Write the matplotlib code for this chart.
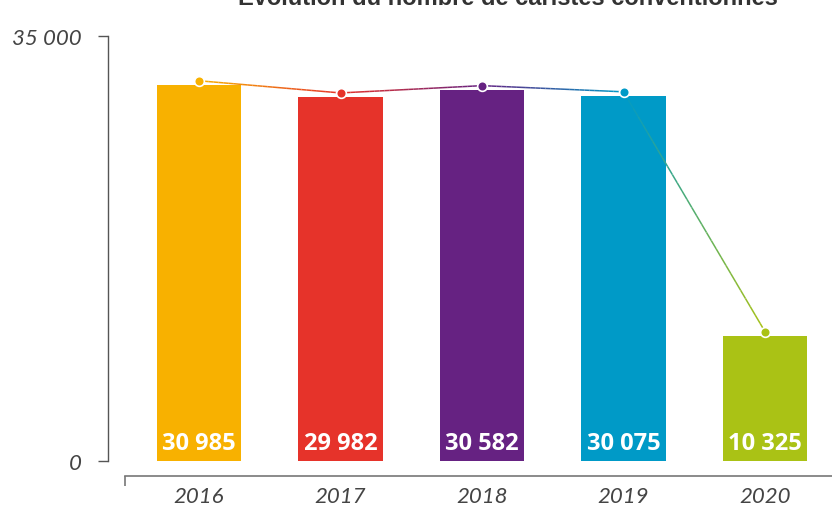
import numpy as np
import matplotlib
matplotlib.use("Agg")
import matplotlib.pyplot as plt
from matplotlib.collections import LineCollection
from matplotlib.colors import to_rgb
from matplotlib.transforms import ScaledTranslation

# data
years = ["2016", "2017", "2018", "2019", "2020"]
caristes = [30985, 29982, 30582, 30075, 10325]
labels = ["30 985", "29 982", "30 582", "30 075", "10 325"]
colors = ["#F8B100", "#E6332A", "#662282", "#009AC7", "#AAC215"]
title = "Évolution du nombre de caristes conventionnés"

W, H = 832, 506
fig = plt.figure(figsize=(W / 100, H / 100), dpi=100)

# axes in pixel terms: left spine at x=108, zero at y=462, top at y=20
x0, y0, y1 = 108, 462, 20
ax = fig.add_axes([x0 / W, 1 - y0 / H, (W - x0) / W, (y0 - y1) / H])
step = 141.5
ax.set_xlim((x0 - 199) / step, (W - 199) / step)
ax.set_ylim(0, 36400)

x = np.arange(len(years))
ax.bar(x, caristes, width=0.594, color=colors, zorder=2)

# line with a colour gradient between points, a few px above the bars
off = ScaledTranslation(0, 4 / 100, fig.dpi_scale_trans)
segs, cols = [], []
for i in range(len(x) - 1):
    c0, c1 = np.array(to_rgb(colors[i])), np.array(to_rgb(colors[i + 1]))
    t = np.linspace(0, 1, 30)
    xs = x[i] + (x[i + 1] - x[i]) * t
    ys = caristes[i] + (caristes[i + 1] - caristes[i]) * t
    for j in range(len(t) - 1):
        segs.append([(xs[j], ys[j]), (xs[j + 1], ys[j + 1])])
        cols.append(c0 + (c1 - c0) * (t[j] + t[j + 1]) / 2)
lc = LineCollection(segs, colors=cols, linewidths=1.1, zorder=3,
                    transform=ax.transData + off)
ax.add_collection(lc)
for i in x:
    ax.plot(x[i], caristes[i], "o", ms=7, mfc=colors[i], mec="white", mew=1.2,
            zorder=4, transform=ax.transData + off)

# value labels inside bars
for i in x:
    ax.annotate(labels[i], xy=(x[i], 0), xytext=(0, 13), textcoords="offset points",
                ha="center", va="center", color="white", fontsize=17,
                fontweight="bold", family="Open Sans", zorder=5)

# spines
for s in ["top", "right"]:
    ax.spines[s].set_visible(False)
ax.spines["left"].set_color("#555555")
ax.spines["left"].set_linewidth(1)
ax.spines["left"].set_bounds(0, 35000)
ax.spines["bottom"].set_color("#777777")
ax.spines["bottom"].set_linewidth(1.2)
ax.spines["bottom"].set_position(("outward", 11))
ax.spines["bottom"].set_bounds((125 - 199) / step, (W - 199) / step)

ax.set_yticks([0, 35000])
ax.set_yticklabels(["0", "35 000"], fontsize=16, style="italic",
                   color="#444444", family="Lato")
ax.tick_params(axis="y", length=7, width=1, color="#555555", pad=12)

ax.set_xticks(x)
ax.set_xticklabels(years, fontsize=16, style="italic", color="#444444", family="Lato")
ax.set_xticks([(125 - 199) / step], minor=True)
ax.tick_params(axis="x", which="major", length=0, pad=7)
ax.tick_params(axis="x", which="minor", length=7, width=1.2, color="#777777")

fig.text(508 / W, 1 - 5 / H, title, ha="center", va="baseline", fontsize=17,
         fontweight="bold", color="#333333", family="Liberation Sans")

fig.savefig("out.png", dpi=100)
